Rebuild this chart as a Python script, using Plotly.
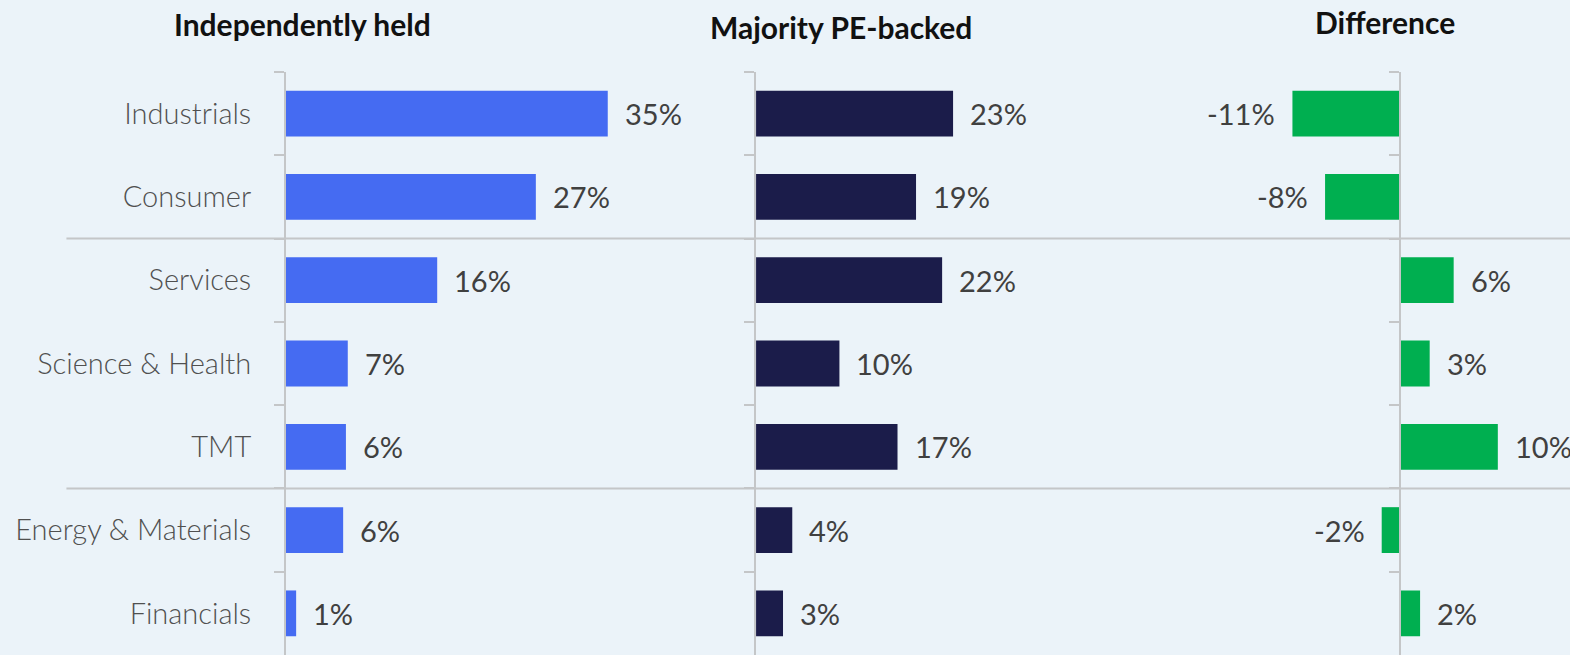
"""Sector mix: independently held vs majority PE-backed companies."""
import plotly.graph_objects as go

# Data (percent of companies)
sectors = ["Industrials", "Consumer", "Services", "Science & Health",
           "TMT", "Energy & Materials", "Financials"]
independent = [34.9, 27.1, 16.4, 6.7, 6.5, 6.2, 1.1]
pe_backed = [23.4, 19.0, 22.1, 9.9, 16.8, 4.3, 3.2]
difference = [-11.2, -7.8, 5.6, 3.1, 10.2, -1.9, 2.1]
panel_titles = ["Independently held", "Majority PE-backed", "Difference"]

BG = "#EBF3F9"
GRID = "#C4C6C8"
TEXT = "#404040"
FONT = "Lato"

fig = go.Figure()

panels = [
    (independent, "#456BF2", "x", "y"),
    (pe_backed, "#1B1C4A", "x2", "y2"),
    (difference, "#00AF50", "x3", "y3"),
]

for values, color, xa, ya in panels:
    fig.add_trace(go.Bar(
        x=values,
        y=sectors,
        orientation="h",
        marker=dict(color=color, line=dict(width=0)),
        xaxis=xa,
        yaxis=ya,
        hoverinfo="skip",
        showlegend=False,
    ))
    # value labels next to each bar end
    for v, s in zip(values, sectors):
        fig.add_annotation(
            x=v, y=s, xref=xa, yref=ya,
            text=f"{v:.0f}%",
            showarrow=False,
            xanchor="left" if v >= 0 else "right",
            xshift=15 if v >= 0 else -15,
            font=dict(family=FONT, size=29, color=TEXT),
        )

# panel geometry
dom1, dom2, dom3 = [0, 0.33], [0.3661, 0.69], [0.7016, 1.0]
rng1, rng2, rng3 = [0, 45.96], [0, 49.40], [-22.2, 17.72]
y3_pos = dom3[0] + (0 - rng3[0]) / (rng3[1] - rng3[0]) * (dom3[1] - dom3[0])

common_x = dict(visible=False, showgrid=False, zeroline=False, fixedrange=True)
common_y = dict(
    type="category",
    autorange="reversed",
    showline=True, linecolor=GRID, linewidth=2,
    ticks="outside", tickson="boundaries", ticklen=10,
    tickcolor=GRID, tickwidth=2,
    showgrid=False, zeroline=False, fixedrange=True,
)

fig.update_layout(
    width=1570, height=655,
    margin=dict(l=286, r=0, t=72, b=0),
    paper_bgcolor=BG, plot_bgcolor=BG,
    bargap=0.45,
    font=dict(family=FONT, color=TEXT),
    xaxis=dict(domain=dom1, range=rng1, anchor="y", **common_x),
    xaxis2=dict(domain=dom2, range=rng2, anchor="y2", **common_x),
    xaxis3=dict(domain=dom3, range=rng3, anchor="y3", **common_x),
    yaxis=dict(anchor="x", showticklabels=True, ticklabelstandoff=27,
               tickfont=dict(family=FONT, size=29, color="#505050", weight=300),
               **common_y),
    yaxis2=dict(anchor="x2", matches="y", showticklabels=False, **common_y),
    yaxis3=dict(anchor="free", position=y3_pos, matches="y",
                showticklabels=False, **common_y),
)

# horizontal separators between sector groups
for yb in [1.5, 4.5]:
    fig.add_shape(type="line", xref="paper", yref="y",
                  x0=-0.171, x1=1, y0=yb, y1=yb,
                  line=dict(color=GRID, width=2), layer="below")

# panel titles
for title, xp, yp in zip(panel_titles, [0.0132, 0.4322, 0.8559],
                         [1.0823, 1.0772, 1.0858]):
    fig.add_annotation(
        x=xp, y=yp, xref="paper", yref="paper",
        text=f"<b>{title}</b>", showarrow=False,
        xanchor="center", yanchor="middle",
        font=dict(family=FONT, size=30, color="#111111"),
    )

fig.write_html("out.html", config={"displayModeBar": False},
               post_script="document.body.style.margin='0';")
